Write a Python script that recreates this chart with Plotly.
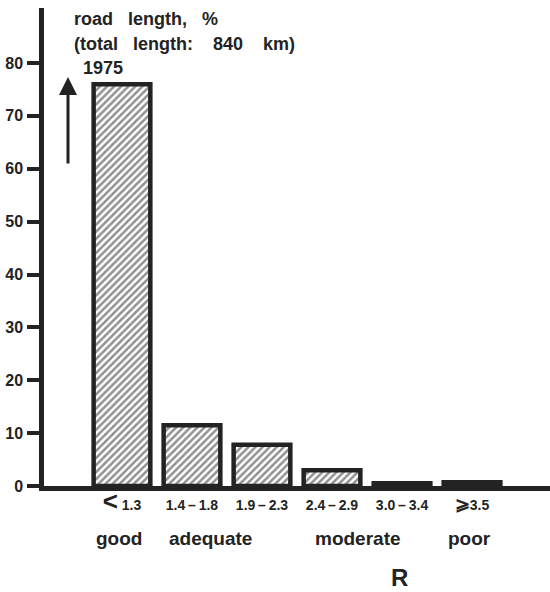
import plotly.graph_objects as go

categories = ["<1.3", "1.4-1.8", "1.9-2.3", "2.4-2.9", "3.0-3.4", ">=3.5"]
tick_labels = ["<span style='font-size:26px'>&lt;</span> 1.3", "1.4\u2009–\u20091.8", "1.9\u2009–\u20092.3",
               "2.4\u2009–\u20092.9", "3.0\u2009–\u20093.4", "<span style='font-size:18px'>⩾</span>3.5"]
values = [76.0, 11.5, 7.8, 3.0, 0.5, 0.7]
quality_labels = ["good", "adequate", "moderate", "poor"]
quality_pos = [-0.04, 1.27, 3.37, 4.97]

ink = "#232323"
font_family = "Liberation Sans, Arial, sans-serif"
sp3 = "&nbsp;" * 3
sp4 = "&nbsp;" * 4

fig = go.Figure()
fig.add_trace(go.Bar(
    x=categories, y=values, width=0.81,
    marker=dict(color="white", line=dict(color=ink, width=4.5),
                pattern=dict(shape="/", fgcolor=ink, bgcolor="white", size=5, solidity=0.5)),
    showlegend=False,
))

fig.update_layout(
    width=550, height=592,
    margin=dict(l=44, r=0, t=8, b=106),
    paper_bgcolor="white", plot_bgcolor="white",
    font=dict(family=font_family, color=ink),
    xaxis=dict(
        type="category", range=[-1.114, 6.114],
        tickvals=categories, ticktext=tick_labels,
        showline=True, linewidth=4.5, linecolor=ink,
        ticks="", showgrid=False, zeroline=False,
        tickfont=dict(size=14, family=font_family, weight="bold", color=ink),
        ticklabelstandoff=2,
    ),
    yaxis=dict(
        range=[0, 90.4], tickvals=[0, 10, 20, 30, 40, 50, 60, 70, 80],
        showline=True, linewidth=4.5, linecolor=ink,
        ticks="outside", ticklen=12, tickwidth=3.5, tickcolor=ink,
        showgrid=False, zeroline=False,
        tickfont=dict(size=16, family=font_family, weight="bold", color=ink),
        ticklabelstandoff=1,
    ),
)

for lab, pos in zip(quality_labels, quality_pos):
    fig.add_annotation(x=pos, y=(486 - 538) / 478, xref="x", yref="paper", text=lab,
                       showarrow=False, yanchor="middle",
                       font=dict(size=19, weight="bold", color=ink))

fig.add_annotation(x=(410 - 44) / 506, y=(486 - 577) / 478, xref="paper", yref="paper",
                   text="R", showarrow=False, yanchor="middle",
                   font=dict(size=24, weight="bold", color=ink))

fig.add_annotation(x=(72 - 44) / 506, y=(486 - 19) / 478, xref="paper", yref="paper",
                   text="road" + sp3 + "length," + sp3 + "%", showarrow=False,
                   xanchor="left", yanchor="middle",
                   font=dict(size=18, weight="bold", color=ink))
fig.add_annotation(x=(72 - 44) / 506, y=(486 - 44) / 478, xref="paper", yref="paper",
                   text="(total" + sp3 + "length:" + sp4 + "840" + sp4 + "km)", showarrow=False,
                   xanchor="left", yanchor="middle",
                   font=dict(size=18, weight="bold", color=ink))
fig.add_annotation(x=(81 - 44) / 506, y=(486 - 68) / 478, xref="paper", yref="paper",
                   text="1975", showarrow=False, xanchor="left", yanchor="middle",
                   font=dict(size=18, weight="bold", color=ink))

fig.add_annotation(x=(68 - 44) / 506, y=(486 - 77) / 478, xref="paper", yref="paper",
                   text="", showarrow=True, ax=0, ay=88, arrowhead=2, arrowsize=1.2,
                   arrowwidth=3, arrowcolor=ink)

fig.write_html("out.html")
